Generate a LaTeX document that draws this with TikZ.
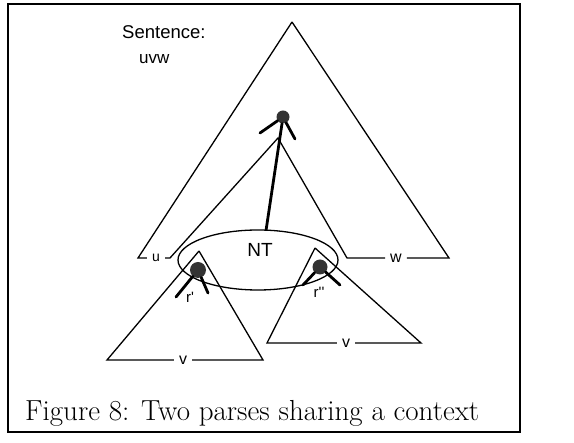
\documentclass[tikz,border=0pt]{standalone}
\usepackage{fontspec}
\newfontfamily\figsans{Liberation Sans}
\usetikzlibrary{shapes.geometric}

\begin{document}
\begin{tikzpicture}[x=1pt,y=-1pt,
  line/.style={line width=1.3pt},
  parse/.style={circle,fill=black!80,inner sep=0pt,minimum size=#1},
  leg/.style={line width=2.8pt,line cap=round},
  lbl/.style={font=\figsans\fontsize{#1}{#1}\selectfont,inner sep=1pt},
  labgap/.style={inner xsep=5pt}]
  \useasboundingbox (0,0) rectangle (574,443);
  % frame
  \draw[line] (8,4) rectangle (520,432);
  % sentence
  \node[lbl=18.5,anchor=west] (sent) at (121,32) {Sentence:};
  \node[lbl=17,anchor=west] (str) at (138,59) {uvw};
  % outer tree with the context hole
  \coordinate (apex) at (292,22);
  \coordinate (lft) at (138,258);
  \coordinate (rgt) at (449,258);
  \coordinate (ilft) at (170,258);
  \coordinate (irgt) at (347,258);
  \coordinate (iapex) at (278,138);
  \node[lbl=14,labgap] (u) at (156,258) {u};
  \node[lbl=16,labgap] (w) at (396,258) {w};
  \draw[line] (apex) -- (lft) -- (u) -- (ilft) -- (iapex) -- (irgt) -- (w) -- (rgt) -- (apex);
  % the two subtrees
  \coordinate (ta) at (199,251);
  \coordinate (tal) at (107,360);
  \coordinate (tar) at (263,360);
  \node[lbl=16,labgap] (va) at (183,360) {v};
  \draw[line] (ta) -- (tal) -- (va) -- (tar) -- (ta);
  \coordinate (tb) at (315,248);
  \coordinate (tbl) at (267,343);
  \coordinate (tbr) at (421,343);
  \node[lbl=16,labgap] (vb) at (346,343) {v};
  \draw[line] (tb) -- (tbl) -- (vb) -- (tbr) -- (tb);
  % shared nonterminal
  \node[draw,line,ellipse,minimum width=160pt,minimum height=60pt,inner sep=0pt] (nt) at (258,260) {};
  \node[lbl=19] (ntl) at (260,250) {NT};
  % parse nodes
  \node[parse=13pt] (top) at (283,117) {};
  \coordinate (topl) at (260,133);
  \coordinate (topr) at (295,139);
  \draw[leg] (topl) -- (top) -- (topr);
  \draw[leg] (top) -- (nt.75);
  \node[parse=16pt] (ca) at (198,270) {};
  \coordinate (cal) at (176,297);
  \coordinate (car) at (208,293);
  \draw[leg] (cal) -- (ca) -- (car);
  \node[parse=15pt] (cb) at (320,267) {};
  \coordinate (cbl) at (303,285);
  \coordinate (cbr) at (340,285);
  \draw[leg] (cbl) -- (cb) -- (cbr);
  \node[lbl=15] (ra) at (190,297) {r'};
  \node[lbl=15] (rb) at (319,292) {r''};
  % caption
  \node[anchor=base west,font=\fontsize{29}{32}\selectfont,inner sep=0pt] (cap) at (25,421) {Figure 8: Two parses sharing a context};
\end{tikzpicture}
\end{document}
